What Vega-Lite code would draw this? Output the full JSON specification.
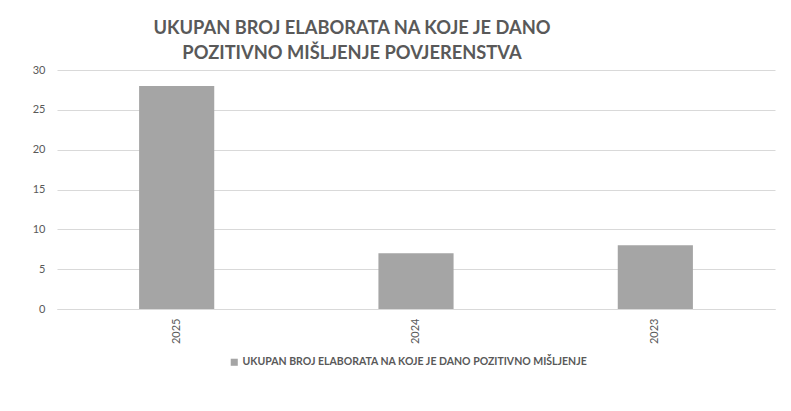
{
  "$schema": "https://vega.github.io/schema/vega-lite/v6.json",
  "width": 718,
  "height": 239,
  "autosize": {"type": "none"},
  "padding": {"left": 57, "top": 70, "right": 16, "bottom": 102},
  "background": "white",
  "title": {
    "text": ["UKUPAN BROJ ELABORATA NA KOJE JE DANO", "POZITIVNO MIŠLJENJE POVJERENSTVA"],
    "font": "Lato",
    "fontSize": 18.3,
    "fontWeight": "bold",
    "color": "#595959",
    "anchor": "middle",
    "dx": -64,
    "offset": 1,
    "lineHeight": 25
  },
  "data": {
    "values": [
      {"year": "2025", "value": 28, "series": "UKUPAN BROJ ELABORATA NA KOJE JE DANO POZITIVNO MIŠLJENJE"},
      {"year": "2024", "value": 7, "series": "UKUPAN BROJ ELABORATA NA KOJE JE DANO POZITIVNO MIŠLJENJE"},
      {"year": "2023", "value": 8, "series": "UKUPAN BROJ ELABORATA NA KOJE JE DANO POZITIVNO MIŠLJENJE"}
    ]
  },
  "mark": {"type": "bar"},
  "encoding": {
    "x": {
      "field": "year",
      "type": "nominal",
      "sort": null,
      "scale": {"paddingInner": 0.686, "paddingOuter": 0.343},
      "axis": {
        "title": null,
        "labelAngle": -90,
        "labelFont": "Lato",
        "labelFontSize": 11,
        "labelColor": "#595959",
        "labelPadding": 9,
        "ticks": false,
        "domainColor": "#d9d9d9",
        "domainWidth": 1
      }
    },
    "y": {
      "field": "value",
      "type": "quantitative",
      "scale": {"domain": [0, 30], "nice": false},
      "axis": {
        "title": null,
        "values": [0, 5, 10, 15, 20, 25, 30],
        "labelFont": "Lato",
        "labelFontSize": 11,
        "labelColor": "#595959",
        "labelPadding": 12,
        "ticks": false,
        "domain": false,
        "gridColor": "#d9d9d9",
        "gridWidth": 1
      }
    },
    "color": {
      "field": "series",
      "type": "nominal",
      "scale": {"range": ["#a5a5a5"]},
      "legend": {
        "title": null,
        "orient": "none",
        "legendX": 172,
        "legendY": 287,
        "direction": "horizontal",
        "symbolType": "square",
        "symbolSize": 50,
        "symbolStrokeWidth": 0,
        "labelFont": "Lato",
        "labelFontSize": 10.5,
        "labelFontWeight": "bold",
        "labelColor": "#595959",
        "labelLimit": 600,
        "labelOffset": 3
      }
    }
  },
  "config": {"view": {"stroke": null}}
}
